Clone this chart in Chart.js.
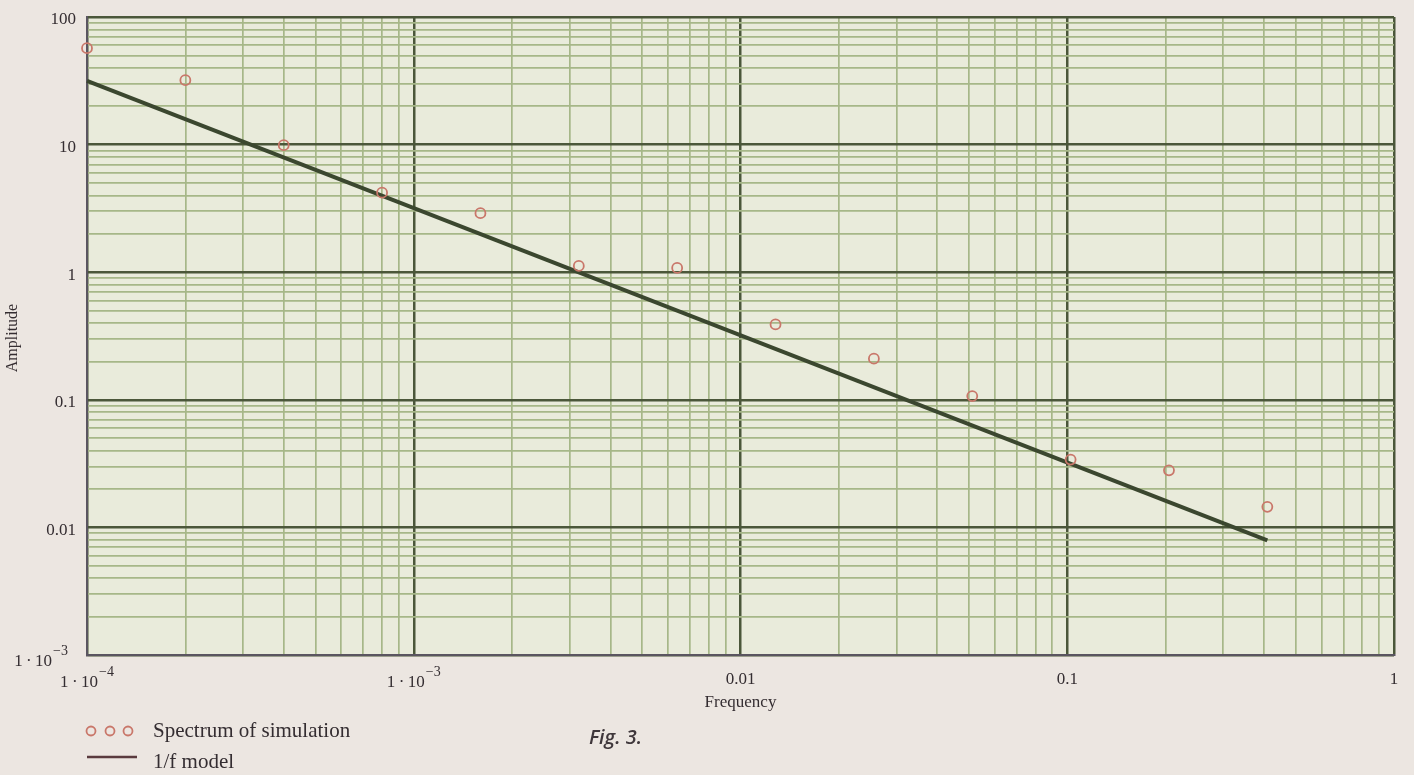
<!DOCTYPE html>
<html>
<head>
<meta charset="utf-8">
<script src="https://cdn.jsdelivr.net/npm/chart.js@4.4.1/dist/chart.umd.min.js"></script>
<style>
  html, body { margin: 0; padding: 0; background: #ece6e1; }
  #wrap { position: relative; width: 1414px; height: 775px; }
  canvas { display: block; }
</style>
</head>
<body>
<div id="wrap"><canvas id="c" width="1414" height="775"></canvas></div>
<script>
// ---- data ----
const frequencies = [0.0001, 0.0002, 0.0004, 0.0008, 0.0016, 0.0032, 0.0064, 0.0128, 0.0256, 0.0512, 0.1024, 0.2048, 0.4096];
const spectrum    = [57, 32, 9.9, 4.2, 2.9, 1.12, 1.08, 0.39, 0.21, 0.107, 0.034, 0.028, 0.0145];
const modelFreq   = [0.0001, 0.4096];
const modelAmp    = [31.6, 0.0079];
const xTickValues = [0.0001, 0.001, 0.01, 0.1, 1];
const xTickLabels = [["1\u2009\u00b7\u200910", "\u22124"], ["1\u2009\u00b7\u200910", "\u22123"], ["0.01"], ["0.1"], ["1"]];
const yTickValues = [0.001, 0.01, 0.1, 1, 10, 100];
const yTickLabels = [["1\u2009\u00b7\u200910", "\u22123"], ["0.01"], ["0.1"], ["1"], ["10"], ["100"]];
const seriesNames = ["Spectrum of simulation", "1/f model"];
const xTitle = "Frequency";
const yTitle = "Amplitude";
const figCaption = "Fig. 3.";

function logGridTicks(min, max) {
  const t = [];
  for (let e = Math.round(Math.log10(min)); e < Math.round(Math.log10(max)); e++) {
    for (let m = 1; m < 10; m++) t.push({ value: m * Math.pow(10, e) });
  }
  t.push({ value: max });
  return t;
}
function isMajor(v) {
  const l = Math.log10(v);
  return Math.abs(l - Math.round(l)) < 1e-6;
}
const MINOR = '#a6b788', MAJOR = '#4b573a';
const SERIF = '"Liberation Serif", "DejaVu Serif", serif';
const TEXT = '#342d31';

function drawSupLabel(ctx, parts, x, y, align, size) {
  ctx.font = size + 'px ' + SERIF;
  const w0 = ctx.measureText(parts[0]).width;
  let w1 = 0;
  const ss = Math.round(size * 0.85);
  if (parts[1]) { ctx.font = ss + 'px ' + SERIF; w1 = ctx.measureText(parts[1]).width + 1; }
  const total = w0 + w1;
  let sx = x;
  if (align === 'center') sx = x - total / 2;
  else if (align === 'right') sx = x - total;
  ctx.textAlign = 'left';
  ctx.textBaseline = 'middle';
  ctx.font = size + 'px ' + SERIF;
  ctx.fillText(parts[0], sx, y);
  if (parts[1]) {
    ctx.font = ss + 'px ' + SERIF;
    ctx.fillText(parts[1], sx + w0 + 1, y - 11);
  }
}

const decor = {
  id: 'decor',
  beforeDraw(chart) {
    const { ctx, chartArea: a } = chart;
    ctx.save();
    ctx.fillStyle = '#e9ebdb';
    ctx.fillRect(a.left, a.top, a.right - a.left, a.bottom - a.top);
    ctx.restore();
  },
  afterDraw(chart) {
    const { ctx, chartArea: a } = chart;
    const xs = chart.scales.x, ys = chart.scales.y;
    ctx.save();
    ctx.fillStyle = TEXT;
    // y tick labels
    yTickValues.forEach((v, i) => {
      const py = ys.getPixelForValue(v);
      const lab = yTickLabels[i];
      drawSupLabel(ctx, lab, lab[1] ? a.left - 19 : a.left - 11, py + (lab[1] ? 7 : 3), 'right', 17);
    });
    // x tick labels
    xTickValues.forEach((v, i) => {
      const px = xs.getPixelForValue(v);
      const lab = xTickLabels[i];
      drawSupLabel(ctx, lab, px, lab[1] ? a.bottom + 28 : a.bottom + 25, 'center', 17);
    });
    // axis titles
    ctx.font = '17px ' + SERIF;
    ctx.textAlign = 'center';
    ctx.textBaseline = 'middle';
    ctx.fillText(xTitle, xs.getPixelForValue(0.01), a.bottom + 48);
    ctx.save();
    ctx.translate(13, 338);
    ctx.rotate(-Math.PI / 2);
    ctx.font = '16px ' + SERIF;
    ctx.fillText(yTitle, 0, 0);
    ctx.restore();
    // caption
    ctx.font = 'italic 600 20px "Open Sans", "DejaVu Sans", sans-serif';
    ctx.fillStyle = '#3f373b';
    ctx.textAlign = 'left';
    ctx.fillText(figCaption, 589, 738);
    // legend
    ctx.strokeStyle = '#c9776a';
    ctx.lineWidth = 1.8;
    [91, 110, 128].forEach(cx => {
      ctx.beginPath(); ctx.arc(cx, 731, 4.5, 0, Math.PI * 2); ctx.stroke();
    });
    ctx.strokeStyle = '#5a3a3e';
    ctx.lineWidth = 2.5;
    ctx.beginPath(); ctx.moveTo(87, 757); ctx.lineTo(137, 757); ctx.stroke();
    ctx.fillStyle = TEXT;
    ctx.font = '21px ' + SERIF;
    ctx.textAlign = 'left';
    ctx.fillText(seriesNames[0], 153, 731);
    ctx.fillText(seriesNames[1], 153, 762);
    ctx.restore();
  }
};

const gridCfg = {
  color: c => (c.tick && isMajor(c.tick.value)) ? MAJOR : MINOR,
  lineWidth: c => (c.tick && isMajor(c.tick.value)) ? 2.5 : 1.7,
  drawTicks: false
};

new Chart(document.getElementById('c'), {
  type: 'scatter',
  data: {
    datasets: [
      {
        label: seriesNames[1],
        type: 'line',
        data: modelFreq.map((f, i) => ({ x: f, y: modelAmp[i] })),
        borderColor: '#3b472f',
        borderWidth: 4,
        pointRadius: 0,
        fill: false,
        order: 1
      },
      {
        label: seriesNames[0],
        data: frequencies.map((f, i) => ({ x: f, y: spectrum[i] })),
        pointStyle: 'circle',
        pointRadius: 5,
        borderColor: '#c9776a',
        backgroundColor: 'rgba(0,0,0,0)',
        borderWidth: 1.8,
        order: 0
      }
    ]
  },
  options: {
    responsive: false,
    animation: false,
    layout: { padding: { left: 87, top: 17, right: 20, bottom: 120 } },
    plugins: { legend: { display: false }, tooltip: { enabled: false } },
    clip: false,
    scales: {
      x: {
        type: 'logarithmic', min: 0.0001, max: 1,
        afterBuildTicks: s => { s.ticks = logGridTicks(0.0001, 1); },
        ticks: { display: false, autoSkip: false },
        grid: gridCfg,
        border: { display: true, color: '#5a5560', width: 2 }
      },
      y: {
        type: 'logarithmic', min: 0.001, max: 100,
        afterBuildTicks: s => { s.ticks = logGridTicks(0.001, 100); },
        ticks: { display: false, autoSkip: false },
        grid: gridCfg,
        border: { display: true, color: '#5a5560', width: 2 }
      }
    }
  },
  plugins: [decor]
});
</script>
</body>
</html>
